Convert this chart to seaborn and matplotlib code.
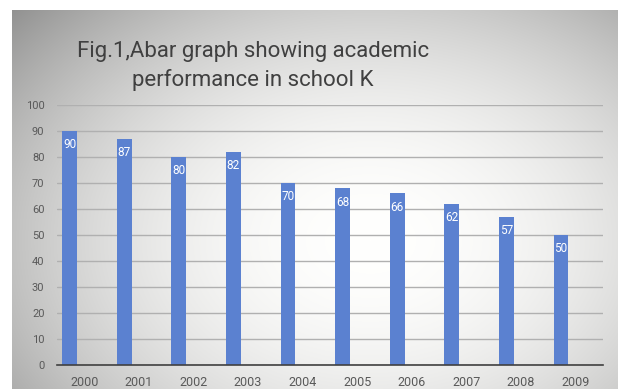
import numpy as np
import pandas as pd
import matplotlib
matplotlib.use("Agg")
import matplotlib.pyplot as plt
import seaborn as sns

# Academic performance of school K by year
years = ["2000", "2001", "2002", "2003", "2004", "2005", "2006", "2007", "2008", "2009"]
scores = [90, 87, 80, 82, 70, 68, 66, 62, 57, 50]
y_ticks = [0, 10, 20, 30, 40, 50, 60, 70, 80, 90, 100]
title = "Fig.1,Abar graph showing academic\nperformance in school K"

df = pd.DataFrame({"year": years, "score": scores})

sns.set_theme(style="white")
plt.rcParams["font.family"] = ["Roboto", "DejaVu Sans"]

W, H = 618, 389
fig = plt.figure(figsize=(W / 100, H / 100), dpi=100)
fig.patch.set_facecolor("white")

# Radial grey-to-white backdrop behind the chart area
bg = fig.add_axes([0, 0, 1, 1])
bg.set_axis_off()
yy, xx = np.mgrid[0:H, 0:W]
cx, cy = 370, 240
r = np.sqrt(((xx - cx) / 400.0) ** 2 + ((yy - cy) / 290.0) ** 2)
shade = 1.0 - 0.3 * np.clip(r, 0, 1.3) ** 2
img = np.dstack([shade, shade, shade * 0.995])
img[:10, :, :] = 1.0
img[:, :12, :] = 1.0
img = np.clip(img, 0, 1)
bg.imshow(img, extent=[0, W, H, 0], aspect="auto", interpolation="bilinear")
bg.set_xlim(0, W)
bg.set_ylim(H, 0)

ax = fig.add_axes([57 / W, (H - 365) / H, (603 - 57) / W, (365 - 105) / H])
ax.patch.set_alpha(0)

bar_w = 0.27
sns.barplot(data=df, x="year", y="score", color="#5b81d0", saturation=1,
            width=bar_w, ax=ax)
for p in ax.patches:
    p.set_x(p.get_x() - bar_w)
    p.set_edgecolor("none")

for p, v in zip(ax.patches, scores):
    ax.annotate(str(v), xy=(p.get_x() + p.get_width() / 2, v),
                xytext=(0, -10), textcoords="offset points",
                ha="center", va="center", color="white", fontsize=8.5)

ax.set_ylim(0, 100)
ax.set_xlim(-0.5, len(years) - 0.5)
ax.set_yticks(y_ticks)
ax.set_yticklabels([str(t) for t in y_ticks])
ax.yaxis.grid(True, color="#b0b0b0", linewidth=1)
ax.set_axisbelow(True)
ax.set_xlabel("")
ax.set_ylabel("")
for s in ["top", "right", "left"]:
    ax.spines[s].set_visible(False)
ax.spines["bottom"].set_color("#404040")
ax.spines["bottom"].set_linewidth(1.2)
ax.tick_params(axis="y", length=0, pad=9, labelsize=8, labelcolor="#595959")
ax.tick_params(axis="x", which="major", length=0, pad=8, labelsize=9, labelcolor="#595959")
ax.set_xticks(np.arange(-0.5, len(years), 1.0), minor=True)
ax.tick_params(axis="x", which="minor", length=4, width=1.2, color="#404040",
               direction="out")

fig.text(253 / W, 1 - 66 / H, title, ha="center", va="center",
         fontsize=16, color="#404040", linespacing=1.45)

fig.savefig("out.png", dpi=100)
